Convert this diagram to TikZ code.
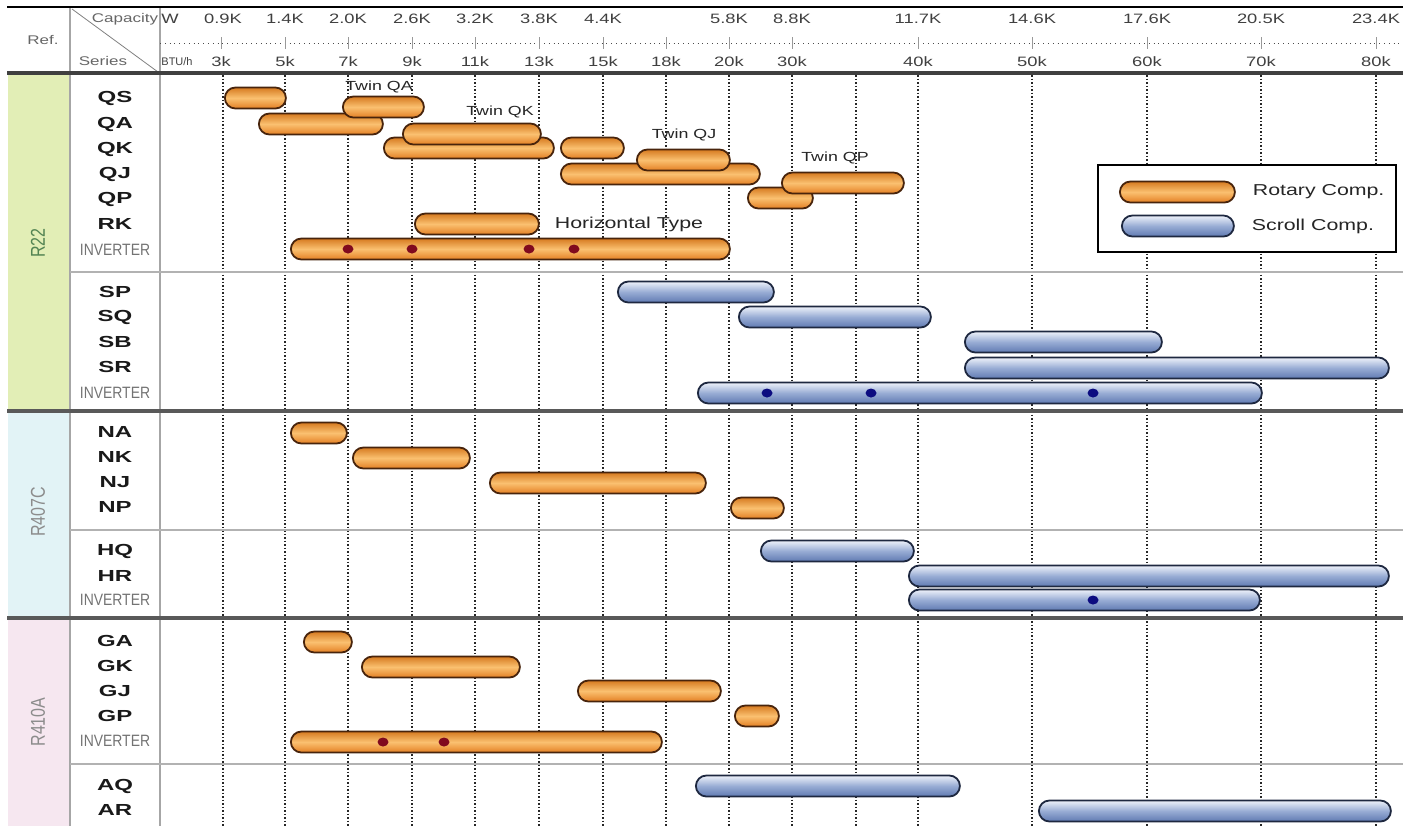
\documentclass[tikz,border=0pt]{standalone}
\usepackage{fontspec}
\setmainfont{Liberation Sans}[FakeStretch=1.35]
\newfontfamily\plainfont{Liberation Sans}
\newfontfamily\narrowfont{Liberation Sans}[FakeStretch=0.85]
\newfontfamily\reffont{Liberation Sans}[FakeStretch=0.8]
\newfontfamily\seriesfont{Liberation Sans}[FakeStretch=1.5]
\usetikzlibrary{calc}
\definecolor{orTop}{RGB}{214,122,32}
\definecolor{orMid}{RGB}{250,192,112}
\definecolor{orBot}{RGB}{228,128,36}
\definecolor{orEdge}{RGB}{72,36,12}
\definecolor{blTop}{RGB}{238,242,250}
\definecolor{blMid}{RGB}{152,172,212}
\definecolor{blBot}{RGB}{96,122,178}
\definecolor{blEdge}{RGB}{30,40,64}
\definecolor{bandGreen}{RGB}{226,238,182}
\definecolor{bandCyan}{RGB}{226,243,246}
\definecolor{bandPink}{RGB}{246,231,240}
\definecolor{dotRed}{RGB}{128,10,30}
\definecolor{dotBlue}{RGB}{12,12,128}
\tikzset{
  rotary/.style = {draw=orEdge, line width=0.9pt, rounded corners=5.25pt, minimum height=10.5pt, inner sep=0pt, top color=orTop, bottom color=orBot, middle color=orMid},
  scroll/.style = {draw=blEdge, line width=0.9pt, rounded corners=5.25pt, minimum height=10.5pt, inner sep=0pt, top color=blTop, bottom color=blBot, middle color=blMid},
  invdot/.style = {fill=#1},
  band/.style = {fill=#1},
  gridline/.style = {color=#1, densely dotted, line width=0.75pt},
  heavyrule/.style = {color=#1, line width=1.8pt},
  lightrule/.style = {color=#1, line width=0.9pt},
  serieslabel/.style = {font=\seriesfont\bfseries\fontsize{8}{9}\selectfont, text=black!90},
  invlabel/.style = {font=\narrowfont\fontsize{8.2}{9}\selectfont, text=black!55},
  reflabel/.style = {font=\reffont\fontsize{10}{11}\selectfont, text=#1, rotate=90},
  scalelabel/.style = {font=\fontsize{6.8}{8}\selectfont, text=black!75},
  headlabel/.style = {font=\fontsize{6.3}{7}\selectfont, text=black!60},
  notelabel/.style = {font=\fontsize{6.6}{8}\selectfont, text=black!85},
  legendlabel/.style = {font=\fontsize{7.9}{9}\selectfont, text=black!85}
}
\newcommand{\compbar}[5][]{%
  % #1: stilus (rotary vagy scroll)
  % #2: csomopont neve
  % #3: bal vege (px)
  % #4: jobb vege (px)
  % #5: sor (px)
  \pgfmathsetmacro{\barlen}{(#4-#3)*0.5}
  \node[#1, minimum width=\barlen pt, anchor=west] (#2) at (#3,#5) {};
}

\begin{document}
\begin{tikzpicture}[x=0.5pt, y=-0.5pt]

    \useasboundingbox (0,0) rectangle (1403,826);

    % Reference bands
    \fill[band={bandGreen}] (8,75) rectangle (69,410);
    \fill[band={bandCyan}] (8,412) rectangle (69,617);
    \fill[band={bandPink}] (8,619) rectangle (69,826);

    % Grid
    \foreach \x in {223,285,348,412,475,539,603,666,729,792,856,918,1032,1147,1261,1376} {
        \draw[gridline={black!85}] (\x,75) -- (\x,826);
    }

    % Header
    \draw[lightrule={gray!70}] (70,7) -- (70,826);
    \draw[lightrule={gray!70}] (160,7) -- (160,826);
    \draw[thin, gray] (72,9) -- (158,72);
    \draw[black!70, dotted] (160,43) -- (1403,43);
    \foreach \x/\w in {223/0.9K,285/1.4K,348/2.0K,412/2.6K,475/3.2K,539/3.8K,603/4.4K,729/5.8K,792/8.8K,918/11.7K,1032/14.6K,1147/17.6K,1261/20.5K,1376/23.4K} {
        \node[scalelabel] (w\x) at (\x,19) {\w};
    }
    \foreach \x/\b in {221/3k,285/5k,348/7k,412/9k,475/11k,539/13k,603/15k,666/18k,729/20k,792/30k,918/40k,1032/50k,1147/60k,1261/70k,1376/80k} {
        \draw[gray!80] (\x,37) -- (\x,49);
        \node[scalelabel] (b\x) at (\x,62) {\b};
    }
    \node[headlabel] (ref) at (43,40) {Ref.};
    \node[headlabel] (capacity) at (125,19) {Capacity};
    \node[headlabel] (series) at (103,61) {Series};
    \node[scalelabel] (unitW) at (170,19) {W};
    \node[font=\plainfont\fontsize{5.5}{6}\selectfont, text=black!75] (unitBTU) at (177,62) {BTU/h};

    % Rules
    \draw[heavyrule={black}, line width=1.3pt] (7,7) -- (1403,7);
    \draw[heavyrule={black!75}] (7,73) -- (1403,73);
    \draw[heavyrule={black!65}] (7,411) -- (1403,411);
    \draw[heavyrule={black!65}] (7,618) -- (1403,618);
    \draw[lightrule={gray!60}] (70,272) -- (1403,272);
    \draw[lightrule={gray!60}] (70,530) -- (1403,530);
    \draw[lightrule={gray!60}] (70,764) -- (1403,764);

    % R22
    \compbar[rotary]{barQS}{224}{285}{98}
    \compbar[rotary]{barQA}{258}{382}{124}
    \compbar[rotary]{barTwinQA}{342}{423}{107}
    \compbar[rotary]{barQK}{383}{553}{148}
    \compbar[rotary]{barTwinQK}{402}{540}{134}
    \compbar[rotary]{barQKb}{560}{623}{148}
    \compbar[rotary]{barQJ}{560}{759}{174}
    \compbar[rotary]{barTwinQJ}{636}{729}{160}
    \compbar[rotary]{barQP}{747}{812}{198}
    \compbar[rotary]{barTwinQP}{781}{903}{183}
    \compbar[rotary]{barRK}{414}{538}{224}
    \compbar[rotary]{barInvA}{290}{729}{249}
    \compbar[scroll]{barSP}{617}{773}{292}
    \compbar[scroll]{barSQ}{738}{930}{317}
    \compbar[scroll]{barSB}{964}{1161}{342}
    \compbar[scroll]{barSR}{964}{1388}{368}
    \compbar[scroll]{barInvB}{697}{1261}{393}

    % R407C
    \compbar[rotary]{barNA}{290}{346}{433}
    \compbar[rotary]{barNK}{352}{469}{458}
    \compbar[rotary]{barNJ}{489}{705}{483}
    \compbar[rotary]{barNP}{730}{783}{508}
    \compbar[scroll]{barHQ}{760}{913}{551}
    \compbar[scroll]{barHR}{908}{1388}{576}
    \compbar[scroll]{barInvC}{908}{1259}{600}

    % R410A
    \compbar[rotary]{barGA}{303}{351}{642}
    \compbar[rotary]{barGK}{361}{519}{667}
    \compbar[rotary]{barGJ}{577}{720}{691}
    \compbar[rotary]{barGP}{734}{778}{716}
    \compbar[rotary]{barInvD}{290}{661}{742}
    \compbar[scroll]{barAQ}{695}{959}{786}
    \compbar[scroll]{barAR}{1038}{1390}{811}

    % Inverter steps
    \foreach \x in {348,412,529,574} {
        \fill[invdot={dotRed}] (\x,249) ellipse (5.5 and 4.5);
    }
    \foreach \x in {767,871,1093} {
        \fill[invdot={dotBlue}] (\x,393) ellipse (5.5 and 4.5);
    }
    \fill[invdot={dotBlue}] (1093,600) ellipse (5.5 and 4.5);
    \foreach \x in {383,444} {
        \fill[invdot={dotRed}] (\x,742) ellipse (5.5 and 4.5);
    }

    % Notes
    \node[notelabel] (noteQA) at (379,87) {Twin QA};
    \node[notelabel] (noteQK) at (500,112) {Twin QK};
    \node[notelabel] (noteQJ) at (684,135) {Twin QJ};
    \node[notelabel] (noteQP) at (835,158) {Twin QP};
    \node[legendlabel, anchor=west] (noteRK) at ($(barRK.east)+(8,0)$) {Horizontal Type};

    % Labels
    \foreach \name/\y in {QS/98,QA/124,QK/149,QJ/174,QP/199,RK/224,SP/292,SQ/317,SB/342,SR/367,NA/432,NK/457,NJ/482,NP/507,HQ/551,HR/576,GA/641,GK/666,GJ/691,GP/716,AQ/786,AR/810} {
        \node[serieslabel] (l\name) at (115,\y) {\name};
    }
    \node[invlabel] (lInvA) at (115,250) {INVERTER};
    \node[invlabel] (lInvB) at (115,393) {INVERTER};
    \node[invlabel] (lInvC) at (115,600) {INVERTER};
    \node[invlabel] (lInvD) at (115,741) {INVERTER};
    \node[reflabel={black!45!green!35!gray}] (rR22) at (38,243) {R22};
    \node[reflabel={gray!90}] (rR407C) at (38,512) {R407C};
    \node[reflabel={gray!90}] (rR410A) at (38,722) {R410A};

    % Legend
    \node[draw=black, line width=1.2pt, fill=white, minimum width=149pt, minimum height=43.5pt, inner sep=0pt] (legend) at (1247,208.5) {};
    \compbar[rotary]{legRotary}{1119}{1234}{192}
    \compbar[scroll]{legScroll}{1121}{1233}{226}
    \node[legendlabel, anchor=west] (legRotaryText) at ($(legRotary.east)+(10,0)$) {Rotary Comp.};
    \node[legendlabel, anchor=west] (legScrollText) at ($(legScroll.east)+(10,0)$) {Scroll Comp.};

\end{tikzpicture}
\end{document}
